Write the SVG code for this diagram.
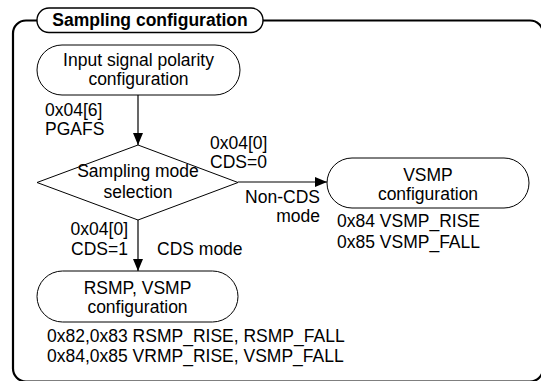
<svg xmlns="http://www.w3.org/2000/svg" width="541" height="381" viewBox="0 0 541 381">
<defs>
<style>
text{font-family:"Liberation Sans",Arial,sans-serif;font-size:17.5px;fill:#000}
.c{text-anchor:middle}
.r{text-anchor:end}
.b{font-weight:bold}
.node{fill:#fff;stroke:#000;stroke-width:1}
.edge{fill:none;stroke:#000;stroke-width:1.2}
</style>
<marker id="ah" viewBox="0 0 12 10" refX="12" refY="5" markerWidth="12" markerHeight="10" markerUnits="userSpaceOnUse" orient="auto">
<path d="M0,0 L12,5 L0,10 Z" fill="#000"/>
</marker>
</defs>
<rect width="541" height="381" fill="#fff"/>
<g id="frame">
<rect x="13" y="20.5" width="530" height="361" rx="13" fill="none" stroke="#000" stroke-width="2.2"/>
<rect x="37" y="8" width="226" height="24.5" rx="12" fill="#fff" stroke="#000" stroke-width="1.4"/>
<text class="c b" x="150" y="26">Sampling configuration</text>
</g>
<g id="connectors">
<line class="edge" x1="138" y1="95" x2="138" y2="145" marker-end="url(#ah)"/>
<line class="edge" x1="238" y1="182" x2="327" y2="182" marker-end="url(#ah)"/>
<line class="edge" x1="138" y1="220" x2="138" y2="271" marker-end="url(#ah)"/>
<text x="45" y="115.5">0x04[6]</text>
<text x="45" y="135">PGAFS</text>
<text x="210" y="148.5">0x04[0]</text>
<text x="210" y="167.5">CDS=0</text>
<text class="r" x="320" y="203">Non-CDS</text>
<text class="r" x="320" y="222">mode</text>
<text class="r" x="128" y="235">0x04[0]</text>
<text class="r" x="128" y="255">CDS=1</text>
<text x="157" y="255">CDS mode</text>
</g>
<g id="input">
<rect class="node" x="37" y="45" width="203" height="50" rx="25"/>
<text class="c" x="138.5" y="66">Input signal polarity</text>
<text class="c" x="138.5" y="85">configuration</text>
</g>
<g id="decision">
<polygon class="node" points="138,145 238,182.5 138,220 37,182.5"/>
<text class="c" x="138" y="177">Sampling mode</text>
<text class="c" x="138" y="198">selection</text>
</g>
<g id="vsmp">
<rect class="node" x="327" y="158" width="202" height="50" rx="25"/>
<text class="c" x="428" y="181">VSMP</text>
<text class="c" x="428" y="200">configuration</text>
<text x="337" y="227">0x84 VSMP_RISE</text>
<text x="337" y="248">0x85 VSMP_FALL</text>
</g>
<g id="rsmp">
<rect class="node" x="37" y="271" width="201" height="51" rx="25.5"/>
<text class="c" x="137.5" y="294">RSMP, VSMP</text>
<text class="c" x="137.5" y="313">configuration</text>
<text x="47" y="342">0x82,0x83 RSMP_RISE, RSMP_FALL</text>
<text x="47" y="362">0x84,0x85 VRMP_RISE, VSMP_FALL</text>
</g>
</svg>
